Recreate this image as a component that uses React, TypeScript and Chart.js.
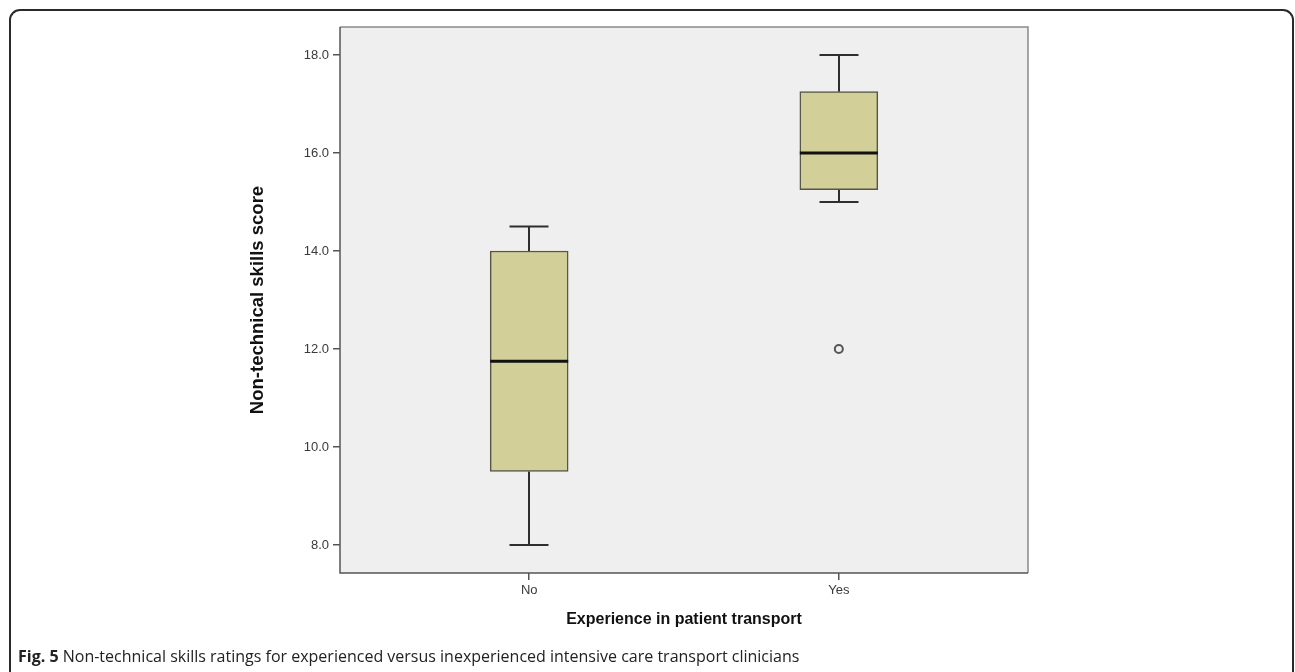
import React, { useEffect, useRef } from "react";
import { Chart, registerables } from "chart.js";

Chart.register(...registerables);

const categories = ["No", "Yes"];
const whiskerMin = [8.0, 15.0];
const q1 = [9.5, 15.25];
const median = [11.75, 16.0];
const q3 = [14.0, 17.25];
const whiskerMax = [14.5, 18.0];
const outliers = [{ group: 1, value: 12.0 }];
const yTicks = [8, 10, 12, 14, 16, 18];

const Y_MIN = 7.43;
const Y_MAX = 18.57;
const X_MIN = -0.611;
const X_MAX = 1.611;

const BOX_WIDTH = 78;
const CAP_WIDTH = 39;

const boxPlugin = {
  id: "boxExtras",
  beforeDatasetsDraw(chart: any) {
    const { ctx, chartArea } = chart;
    ctx.save();
    ctx.fillStyle = "#efefef";
    ctx.fillRect(chartArea.left, chartArea.top, chartArea.right - chartArea.left, chartArea.bottom - chartArea.top);
    const xs = chart.scales.x;
    const ys = chart.scales.y;
    ctx.strokeStyle = "#2e2e2e";
    ctx.lineWidth = 2;
    ctx.lineCap = "butt";
    categories.forEach((_, i) => {
      const cx = Math.round(xs.getPixelForValue(i));
      const yMin = ys.getPixelForValue(whiskerMin[i]);
      const yQ1 = ys.getPixelForValue(q1[i]);
      const yQ3 = ys.getPixelForValue(q3[i]);
      const yMax = ys.getPixelForValue(whiskerMax[i]);
      ctx.beginPath();
      ctx.moveTo(cx, yMax);
      ctx.lineTo(cx, yQ3);
      ctx.moveTo(cx, yQ1);
      ctx.lineTo(cx, yMin);
      ctx.moveTo(cx - CAP_WIDTH / 2, yMax);
      ctx.lineTo(cx + CAP_WIDTH / 2, yMax);
      ctx.moveTo(cx - CAP_WIDTH / 2, yMin);
      ctx.lineTo(cx + CAP_WIDTH / 2, yMin);
      ctx.stroke();
    });
    ctx.restore();
  },
  afterDatasetsDraw(chart: any) {
    const { ctx, chartArea } = chart;
    const xs = chart.scales.x;
    const ys = chart.scales.y;
    ctx.save();
    ctx.strokeStyle = "#111";
    ctx.lineWidth = 3;
    categories.forEach((_, i) => {
      const cx = xs.getPixelForValue(i);
      const ym = ys.getPixelForValue(median[i]);
      ctx.beginPath();
      ctx.moveTo(cx - BOX_WIDTH / 2, ym);
      ctx.lineTo(cx + BOX_WIDTH / 2, ym);
      ctx.stroke();
    });
    ctx.strokeStyle = "#8a8a8a";
    ctx.lineWidth = 1.5;
    ctx.beginPath();
    ctx.moveTo(chartArea.left, chartArea.top);
    ctx.lineTo(chartArea.right, chartArea.top);
    ctx.lineTo(chartArea.right, chartArea.bottom);
    ctx.stroke();
    ctx.strokeStyle = "#555";
    ctx.beginPath();
    ctx.moveTo(chartArea.left, chartArea.top);
    ctx.lineTo(chartArea.left, chartArea.bottom);
    ctx.lineTo(chartArea.right, chartArea.bottom);
    ctx.stroke();
    ctx.restore();
  },
};

export default function App() {
  const ref = useRef<HTMLCanvasElement | null>(null);

  useEffect(() => {
    if (!ref.current) return;
    const chart = new Chart(ref.current, {
      type: "bar",
      data: {
        datasets: [
          {
            type: "bar",
            label: "Box",
            data: categories.map((_, i) => ({ x: i, y: [q1[i], q3[i]] })) as any,
            backgroundColor: "#d3cf98",
            borderColor: "#555548",
            borderWidth: 1.5,
            borderSkipped: false,
            barThickness: BOX_WIDTH,
          } as any,
          {
            type: "scatter",
            label: "Outliers",
            data: outliers.map((o) => ({ x: o.group, y: o.value })),
            pointStyle: "circle",
            pointRadius: 4,
            pointBorderWidth: 2,
            pointBorderColor: "#555",
            pointBackgroundColor: "#efefef",
          } as any,
        ],
      },
      options: {
        animation: false,
        responsive: false,
        maintainAspectRatio: false,
        layout: { padding: { left: 246.9, top: 27, right: 267, bottom: 42.4 } },
        plugins: { legend: { display: false }, tooltip: { enabled: false }, title: { display: false } },
        scales: {
          x: {
            type: "linear",
            min: X_MIN,
            max: X_MAX,
            offset: false,
            afterBuildTicks: (s: any) => {
              s.ticks = categories.map((_, i) => ({ value: i }));
            },
            afterFit: (s: any) => {
              s.height = 56.6;
            },
            border: { display: false },
            grid: { offset: false, drawOnChartArea: false, drawTicks: true, tickLength: 7, color: "#555", lineWidth: 1.5 },
            ticks: {
              padding: 3,
              color: "#3a3a3a",
              font: { family: "'Liberation Sans', Arial, sans-serif", size: 13 },
              callback: (v: any) => categories[v as number] ?? "",
            },
            title: {
              display: true,
              text: "Experience in patient transport",
              color: "#111",
              padding: 0,
              font: { family: "'Liberation Sans', Arial, sans-serif", size: 16, weight: "bold" },
            },
          },
          y: {
            type: "linear",
            min: Y_MIN,
            max: Y_MAX,
            afterBuildTicks: (s: any) => {
              s.ticks = yTicks.map((v) => ({ value: v }));
            },
            afterFit: (s: any) => {
              s.width = 93.1;
            },
            border: { display: false },
            grid: { drawOnChartArea: false, drawTicks: true, tickLength: 7, color: "#555", lineWidth: 1.5 },
            ticks: {
              padding: 4,
              color: "#3a3a3a",
              font: { family: "'Liberation Sans', Arial, sans-serif", size: 13 },
              callback: (v: any) => Number(v).toFixed(1),
            },
            title: {
              display: true,
              text: "Non-technical skills score",
              color: "#111",
              padding: 0,
              font: { family: "'Liberation Sans', Arial, sans-serif", size: 18.5, weight: "bold" },
            },
          },
        },
      },
      plugins: [boxPlugin],
    });
    return () => chart.destroy();
  }, []);

  return (
    <div style={{ position: "fixed", left: 0, top: 0, width: 1295, height: 672, background: "#fff", overflow: "hidden" }}>
      <div
        style={{
          position: "absolute",
          left: 9,
          top: 9,
          width: 1285,
          height: 720,
          border: "2px solid #2a2a2a",
          borderRadius: 11,
          boxSizing: "border-box",
        }}
      />
      <canvas ref={ref} width={1295} height={672} style={{ position: "absolute", left: 0, top: 0, width: 1295, height: 672 }} />
      <div
        style={{
          position: "absolute",
          left: 18,
          top: 645,
          fontFamily: "'Open Sans', 'Noto Sans', sans-serif",
          fontSize: 16,
          color: "#222",
          whiteSpace: "nowrap",
        }}
      >
        <b>Fig. 5</b> Non-technical skills ratings for experienced versus inexperienced intensive care transport clinicians
      </div>
    </div>
  );
}
